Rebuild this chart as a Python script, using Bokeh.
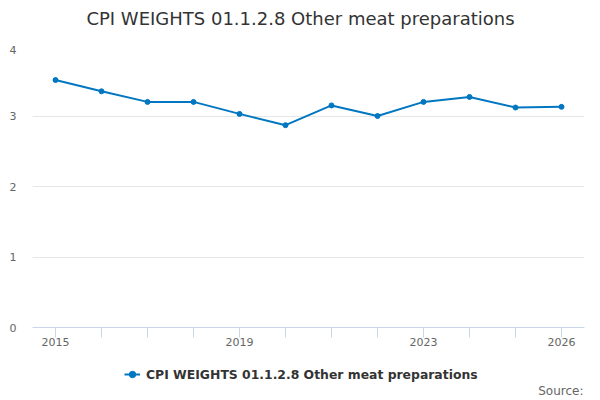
from bokeh.plotting import figure
from bokeh.layouts import column
from bokeh.models import FixedTicker, Legend, LegendItem, Label, Range1d
from bokeh.embed import file_html
from bokeh.resources import INLINE

years = [2015, 2016, 2017, 2018, 2019, 2020, 2021, 2022, 2023, 2024, 2025, 2026]
weights = [3.51, 3.35, 3.20, 3.20, 3.03, 2.87, 3.15, 3.00, 3.20, 3.27, 3.12, 3.13]
labelled_years = [2015, 2019, 2023, 2026]
y_ticks = [0, 1, 2, 3, 4]
title_text = "CPI WEIGHTS 01.1.2.8 Other meat preparations"
series_name = "CPI WEIGHTS 01.1.2.8 Other meat preparations"
source_text = "Source:"

FONT = "DejaVu Sans"
COLOR = "#0077c0"


def strip(height):
    f = figure(width=600, height=height, output_backend="svg", toolbar_location=None,
               title=None, x_range=Range1d(0, 552), y_range=Range1d(0, height),
               x_axis_location=None, y_axis_location=None,
               min_border_left=32, min_border_right=16, min_border_top=0, min_border_bottom=0)
    f.outline_line_color = None
    f.xgrid.grid_line_color = None
    f.ygrid.grid_line_color = None
    f.background_fill_color = "white"
    f.border_fill_color = "white"
    return f


# Title strip
p0 = strip(45)
p0.add_layout(Label(x=268, y=27, x_units="screen", y_units="screen", text=title_text,
                    text_align="center", text_baseline="middle", text_font=FONT,
                    text_font_size="18px", text_color="#333333"))

# Main chart
p = figure(width=600, height=307, output_backend="svg", toolbar_location=None, title=None,
           x_range=Range1d(2014.5, 2026.5), y_range=Range1d(0, 4),
           min_border_left=32, min_border_right=16, min_border_top=0, min_border_bottom=25)

p.outline_line_color = None
p.background_fill_color = "white"
p.border_fill_color = "white"

p.yaxis.ticker = FixedTicker(ticks=y_ticks)
p.yaxis.axis_line_color = None
p.yaxis.major_tick_line_color = None
p.yaxis.major_tick_in = 0
p.yaxis.major_tick_out = 0
p.yaxis.minor_tick_line_color = None
p.yaxis.major_label_text_font = FONT
p.yaxis.major_label_text_font_size = "11px"
p.yaxis.major_label_text_color = "#666666"
p.yaxis.major_label_standoff = 16

p.xaxis.ticker = FixedTicker(ticks=years)
p.xaxis.major_label_overrides = {y: (str(y) if y in labelled_years else "") for y in years}
p.xaxis.axis_line_color = "#ccd6eb"
p.xaxis.major_tick_line_color = "#ccd6eb"
p.xaxis.major_tick_in = 0
p.xaxis.major_tick_out = 10
p.xaxis.minor_tick_line_color = None
p.xaxis.major_label_text_font = FONT
p.xaxis.major_label_text_font_size = "11px"
p.xaxis.major_label_text_color = "#666666"
p.xaxis.major_label_standoff = 0

p.xgrid.grid_line_color = None
p.ygrid.grid_line_color = "#e6e6e6"
p.ygrid.ticker = FixedTicker(ticks=y_ticks)

p.line(years, weights, line_color=COLOR, line_width=2)
p.scatter(years, weights, size=5, fill_color=COLOR, line_color=COLOR)

# Bottom strip: legend and source
p2 = strip(48)
# key renderers (their data lies outside this strip's view; only the legend key shows)
key_line = p2.line(years, weights, line_color=COLOR, line_width=2)
key_pts = p2.scatter(years, weights, size=4, fill_color=COLOR, line_color=COLOR)

legend = Legend(items=[LegendItem(label=series_name, renderers=[key_line, key_pts])],
                orientation="horizontal", location=(92, 16),
                label_text_font=FONT, label_text_font_size="12.4px",
                label_text_font_style="bold", label_text_color="#333333",
                border_line_color=None, background_fill_alpha=0,
                glyph_width=16, label_standoff=6, padding=4, margin=0)
p2.add_layout(legend, "center")

p2.add_layout(Label(x=551, y=10, x_units="screen", y_units="screen", text=source_text,
                    text_align="right", text_baseline="middle", text_font=FONT,
                    text_font_size="12px", text_color="#666666"))

layout = column(p0, p, p2, spacing=0)
open("out.html", "w").write(file_html(layout, INLINE))
